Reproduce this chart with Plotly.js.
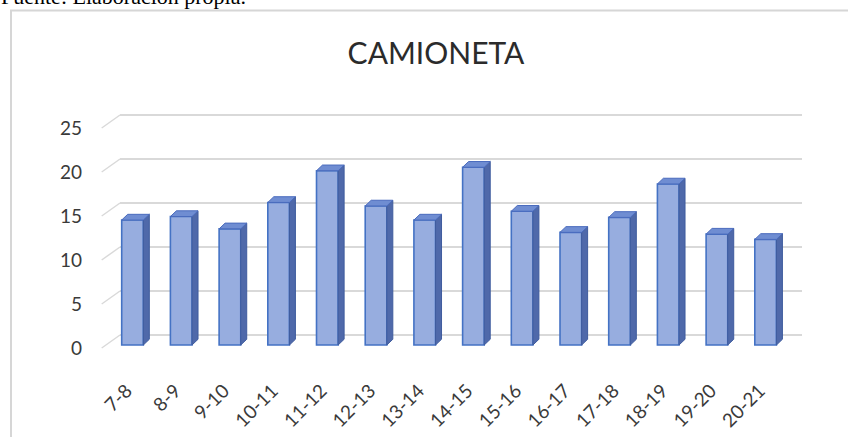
<!DOCTYPE html>
<html>
<head>
<meta charset="utf-8">
<script src="https://cdn.plot.ly/plotly-3.0.1.min.js"></script>
<style>
  html, body { margin: 0; padding: 0; background: #ffffff; }
  #chart { width: 848px; height: 437px; }
</style>
</head>
<body>
<div id="chart"></div>
<script>
// ---- data ----
const categories = ['7-8', '8-9', '9-10', '10-11', '11-12', '12-13', '13-14',
                    '14-15', '15-16', '16-17', '17-18', '18-19', '19-20', '20-21'];
const values = [14.2, 14.6, 13.2, 16.2, 19.8, 15.8, 14.2, 20.2, 15.2, 12.8, 14.5, 18.3, 12.6, 12.0];
const yTicks = [0, 5, 10, 15, 20, 25];
const chartTitle = 'CAMIONETA';
const sourceNote = 'Fuente: Elaboración propia.';

// ---- layout geometry ----
const W = 848, H = 437;
const mL = 120, mR = 46, mT = 110, mB = 89;
const plotW = W - mL - mR, plotH = H - mT - mB;
const xIdx = categories.map((c, i) => i);
const xRange = [-0.257, 13.747];
const yBar = [-0.341, 26.705];     // front plane (bars)
const yGrid = [-1.477, 25.568];    // back wall (gridlines)
const yLab = [0, 27.045];          // label plane
const barW = 0.444;
const depthX = 0.123, depthY = 0.65;   // 3D depth in data units

function pxX(px) { return (px - mL) / plotW; }
function pxY(py) { return (H - mB - py) / plotH; }
function toPaper(v, r) { return (v - r[0]) / (r[1] - r[0]); }

const shapes = [];
// chart frame
shapes.push({type: 'rect', xref: 'paper', yref: 'paper',
  x0: pxX(11), x1: pxX(870), y0: pxY(460), y1: pxY(10.5),
  line: {color: '#d6d6d6', width: 2}, fillcolor: 'rgba(0,0,0,0)', layer: 'below'});
// perspective floor edges from label plane to back wall
yTicks.forEach(k => {
  shapes.push({type: 'line', xref: 'paper', yref: 'paper',
    x0: pxX(101.7), y0: toPaper(k, yLab), x1: 0, y1: toPaper(k, yGrid),
    line: {color: '#d9d9d9', width: 1.5}, layer: 'below'});
});
// 3D side and top faces of bars
values.forEach((v, i) => {
  const xl = i - barW / 2, xr = i + barW / 2;
  shapes.push({type: 'path', xref: 'x', yref: 'y',
    path: `M ${xr},0 L ${xr + depthX},${depthY} L ${xr + depthX},${v + depthY} L ${xr},${v} Z`,
    fillcolor: '#4f69aa', line: {color: '#3f5c9e', width: 1}});
  shapes.push({type: 'path', xref: 'x', yref: 'y',
    path: `M ${xl},${v} L ${xr},${v} L ${xr + depthX},${v + depthY} L ${xl + depthX},${v + depthY} Z`,
    fillcolor: '#6f8dd2', line: {color: '#4a6bbd', width: 1}});
});

const traces = [
  {type: 'bar', x: xIdx, y: values, yaxis: 'y', width: barW,
   marker: {color: '#97addf', line: {color: '#4472c4', width: 1.6}},
   hoverinfo: 'x+y', showlegend: false},
  {type: 'scatter', mode: 'markers', x: [0], y: [0], yaxis: 'y2',
   marker: {opacity: 0}, hoverinfo: 'skip', showlegend: false},
  {type: 'scatter', mode: 'markers', x: [0], y: [0], yaxis: 'y3',
   marker: {opacity: 0}, hoverinfo: 'skip', showlegend: false}
];

const tickFont = {family: 'Lato, "Open Sans", sans-serif', size: 19, color: '#3a3a3a'};

const layout = {
  width: W, height: H,
  margin: {l: mL, r: mR, t: mT, b: mB, pad: 0},
  paper_bgcolor: '#ffffff', plot_bgcolor: 'rgba(0,0,0,0)',
  showlegend: false,
  title: {text: chartTitle, x: 436 / W, xref: 'container', xanchor: 'center',
          y: 1 - 53 / H, yref: 'container', yanchor: 'middle',
          font: {family: 'Lato, "Open Sans", sans-serif', size: 30, color: '#2b2b2b'}},
  xaxis: {range: xRange, tickmode: 'array', tickvals: xIdx, ticktext: categories,
          tickangle: -45, tickfont: tickFont, showgrid: false, zeroline: false,
          showline: false, ticks: '', ticklabelstandoff: 27, ticklabelshift: -6,
          fixedrange: true},
  yaxis: {range: yBar, showgrid: false, zeroline: false, showline: false,
          showticklabels: false, ticks: '', fixedrange: true},
  yaxis2: {range: yGrid, overlaying: 'y', tickmode: 'array', tickvals: yTicks,
           showgrid: true, gridcolor: '#d9d9d9', gridwidth: 1.5, zeroline: false,
           showline: false, showticklabels: false, ticks: '', fixedrange: true},
  yaxis3: {range: yLab, overlaying: 'y', tickmode: 'array', tickvals: yTicks,
           showgrid: false, zeroline: false, showline: false, ticks: '',
           tickfont: tickFont, ticklabelstandoff: 37, fixedrange: true},
  shapes: shapes,
  annotations: [{text: sourceNote, xref: 'paper', yref: 'paper',
    x: pxX(-1), y: pxY(11), xanchor: 'left', yanchor: 'bottom', showarrow: false,
    font: {family: '"Liberation Serif", "Times New Roman", serif', size: 22, color: '#000000'}}]
};

Plotly.newPlot('chart', traces, layout, {displayModeBar: false, staticPlot: true});
</script>
</body>
</html>
